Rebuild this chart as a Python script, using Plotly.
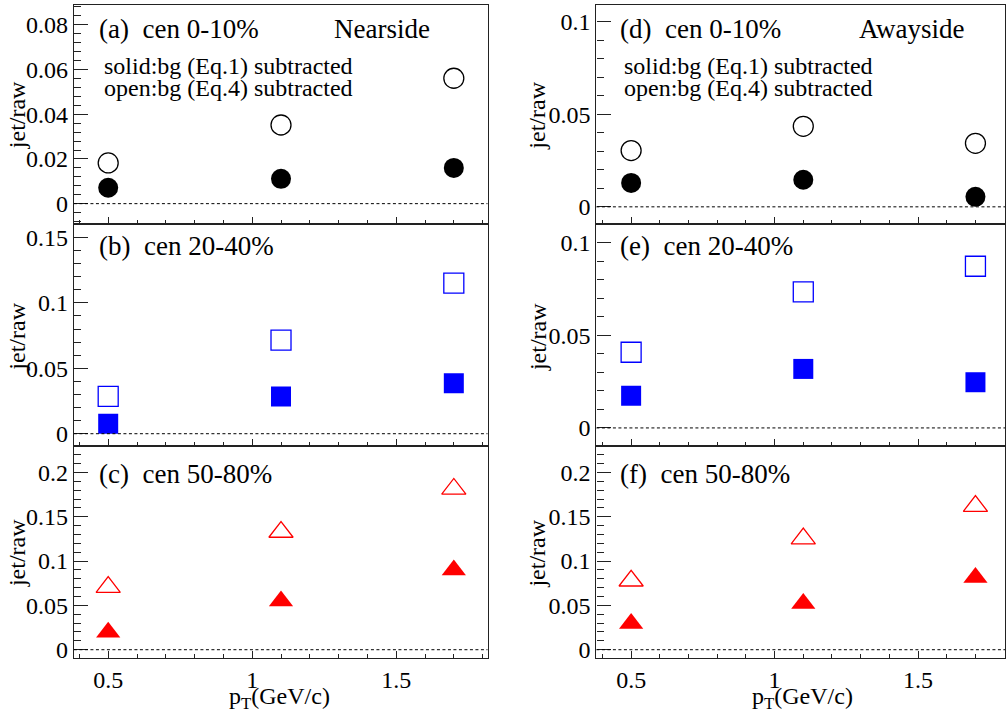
import plotly.graph_objects as go

# ---------------- data ----------------
pt = [0.5, 1.1, 1.7]

near_0_10_solid = [0.0071, 0.0111, 0.0160]
near_0_10_open = [0.0182, 0.0352, 0.0561]
near_20_40_solid = [0.0076, 0.0284, 0.0385]
near_20_40_open = [0.0286, 0.0716, 0.1151]
near_50_80_solid = [0.0198, 0.0550, 0.0899]
near_50_80_open = [0.0707, 0.1328, 0.1814]

away_0_10_solid = [0.0129, 0.0146, 0.0054]
away_0_10_open = [0.0304, 0.0435, 0.0343]
away_20_40_solid = [0.0174, 0.0319, 0.0247]
away_20_40_open = [0.0409, 0.0735, 0.0874]
away_50_80_solid = [0.0297, 0.0522, 0.0815]
away_50_80_open = [0.0778, 0.1253, 0.1620]

panel_labels = ["(a)\u00a0\u00a0cen 0-10%", "(b)\u00a0\u00a0cen 20-40%", "(c)\u00a0\u00a0cen 50-80%",
                "(d)\u00a0\u00a0cen 0-10%", "(e)\u00a0\u00a0cen 20-40%", "(f)\u00a0\u00a0cen 50-80%"]
side_labels = ["Nearside", "Awayside"]
note_lines = ["solid:bg (Eq.1) subtracted", "open:bg (Eq.4) subtracted"]

# ---------------- layout constants ----------------
W, H = 1006, 719
FONT = "Liberation Serif"
BLACK = "#000000"
BLUE = "#0000ff"
RED = "#ff0000"

def px(xp):
    return xp / W

def py(yp):
    return 1 - yp / H

col_dom = [[px(74), px(488)], [px(597), 1.0]]
col_xrange = [[0.381, 1.817], [0.379, 1.803]]
row_dom = [[py(226), py(5)], [py(449), py(226)], [py(663), py(449)]]

yranges = [[-0.0093, 0.0889], [-0.0093, 0.160], [-0.0098, 0.230],
           [-0.0095, 0.109], [-0.0097, 0.110], [-0.0098, 0.230]]
ydticks = [0.02, 0.05, 0.05, 0.05, 0.05, 0.05]
yminor = [0.004, 0.01, 0.01, 0.01, 0.01, 0.01]

series = [
    (near_0_10_solid, near_0_10_open, "circle", BLACK, 20),
    (near_20_40_solid, near_20_40_open, "square", BLUE, 20),
    (near_50_80_solid, near_50_80_open, "triangle-up", RED, 21),
    (away_0_10_solid, away_0_10_open, "circle", BLACK, 20),
    (away_20_40_solid, away_20_40_open, "square", BLUE, 20),
    (away_50_80_solid, away_50_80_open, "triangle-up", RED, 21),
]

fig = go.Figure()
layout = dict(width=W, height=H, margin=dict(l=0, r=0, t=0, b=0),
              showlegend=False, plot_bgcolor="white", paper_bgcolor="white",
              font=dict(family=FONT, size=23, color="black"))
shapes = []
annotations = []

for i in range(6):
    col = i // 3
    row = i % 3
    n = i + 1
    xa = "x" if n == 1 else f"x{n}"
    ya = "y" if n == 1 else f"y{n}"
    xkey = "xaxis" if n == 1 else f"xaxis{n}"
    ykey = "yaxis" if n == 1 else f"yaxis{n}"
    solid, opn, sym, colr, msize = series[i]
    fig.add_trace(go.Scatter(x=pt, y=opn, mode="markers", xaxis=xa, yaxis=ya,
                             marker=dict(symbol=sym + "-open", size=msize, color=colr,
                                         line=dict(width=1.3, color=colr))))
    fig.add_trace(go.Scatter(x=pt, y=solid, mode="markers", xaxis=xa, yaxis=ya,
                             marker=dict(symbol=sym, size=msize, color=colr,
                                         line=dict(width=0))))
    layout[xkey] = dict(domain=col_dom[col], range=col_xrange[col], anchor=ya,
                        showline=True, linecolor="#222", linewidth=1.2, mirror=True,
                        ticks="inside", ticklen=7, tickwidth=1, tickcolor="#222",
                        tick0=0, dtick=0.5, showgrid=False, zeroline=False,
                        showticklabels=(row == 2),
                        tickfont=dict(family=FONT, size=24),
                        minor=dict(ticks="inside", ticklen=4, dtick=0.1, tick0=0,
                                   tickcolor="#222", showgrid=False))
    layout[ykey] = dict(domain=row_dom[row], range=yranges[i], anchor=xa,
                        showline=True, linecolor="#222", linewidth=1.2, mirror=True,
                        ticks="inside", ticklen=14, tickwidth=1, tickcolor="#222",
                        tick0=0, dtick=ydticks[i], showgrid=False, zeroline=False,
                        tickfont=dict(family=FONT, size=24),
                        minor=dict(ticks="inside", ticklen=7, dtick=yminor[i], tick0=0,
                                   tickcolor="#222", showgrid=False))
    shapes.append(dict(type="line", xref=f"{xa} domain", yref=ya, x0=0, x1=1, y0=0, y1=0,
                       line=dict(color="black", width=1, dash="3px,2.5px")))

    lab_x = 96.7 if col == 0 else 618.3
    lab_y = [29, 248, 477][row]
    annotations.append(dict(text=panel_labels[i], xref="paper", yref="paper",
                            x=px(lab_x), y=py(lab_y), xanchor="left", yanchor="middle",
                            showarrow=False, font=dict(family=FONT, size=27)))
    ttl_x = 17 if col == 0 else 538
    ttl_y = [116, 339, 557][row]
    annotations.append(dict(text="jet/raw", xref="paper", yref="paper",
                            x=px(ttl_x), y=py(ttl_y), xanchor="center", yanchor="middle",
                            textangle=-90, showarrow=False, font=dict(family=FONT, size=24)))

annotations.append(dict(text=side_labels[0], xref="paper", yref="paper", x=px(332), y=py(29),
                        xanchor="left", yanchor="middle", showarrow=False,
                        font=dict(family=FONT, size=27)))
annotations.append(dict(text=side_labels[1], xref="paper", yref="paper", x=px(858), y=py(29),
                        xanchor="left", yanchor="middle", showarrow=False,
                        font=dict(family=FONT, size=27)))
for cx in (101.7, 622.7):
    for k, ly in enumerate((66, 89)):
        annotations.append(dict(text=note_lines[k], xref="paper", yref="paper", x=px(cx), y=py(ly),
                                xanchor="left", yanchor="middle", showarrow=False,
                                font=dict(family=FONT, size=24)))

for cx in (280, 803):
    annotations.append(dict(text="p<sub>T</sub>(GeV/c)", xref="paper", yref="paper",
                            x=px(cx), y=py(703), xanchor="center", yanchor="middle",
                            showarrow=False, font=dict(family=FONT, size=24)))

layout["shapes"] = shapes
layout["annotations"] = annotations
fig.update_layout(**layout)
fig.write_html("out.html", config={"displayModeBar": False},
               post_script="document.body.style.margin='0px';")
